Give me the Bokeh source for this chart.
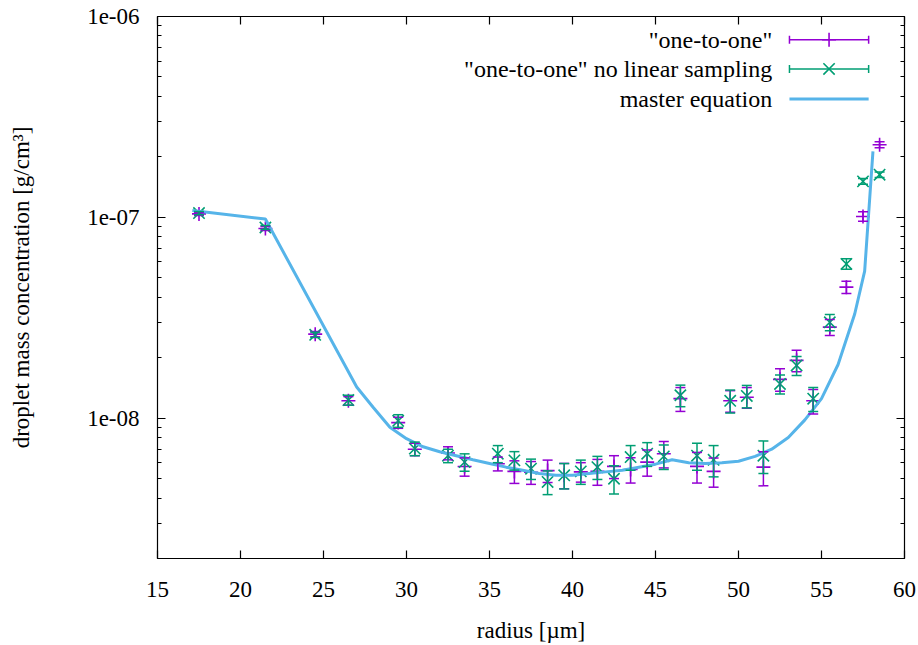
import math
from bokeh.plotting import figure
from bokeh.models import (Whisker, TeeHead, ColumnDataSource, LinearAxis, LogAxis,
                          FixedTicker, CustomJSTickFormatter, Range1d)
from bokeh.core.properties import value
from bokeh.embed import file_html
from bokeh.resources import INLINE

# ---------------- data ----------------
radius = [17.5, 21.5, 24.5, 26.5, 29.5, 30.5, 32.5, 33.5, 35.5, 36.5, 37.5, 38.5,
          39.5, 40.5, 41.5, 42.5, 43.5, 44.5, 45.5, 46.5, 47.5, 48.5, 49.5, 50.5,
          51.5, 52.5, 53.5, 54.5, 55.5, 56.5, 57.5, 58.5]

one_to_one = [1.04e-7, 8.8e-8, 2.62e-8, 1.22e-8, 9.5e-9, 7.0e-9, 6.7e-9, 5.74e-9,
              5.93e-9, 5.43e-9, 5.38e-9, 5.48e-9, 5.2e-9, 5.4e-9, 5.43e-9, 5.75e-9,
              5.55e-9, 6.04e-9, 6.65e-9, 1.25e-8, 5.75e-9, 5.43e-9, 1.22e-8, 1.27e-8,
              5.7e-9, 1.56e-8, 1.94e-8, 1.22e-8, 2.84e-8, 4.49e-8, 1.01e-7, 2.3e-7]
one_to_one_err = [2e-9, 2e-9, 8e-10, 6e-10, 6e-10, 5e-10, 5e-10, 6e-10,
                  4.7e-10, 7e-10, 7e-10, 7e-10, 7.5e-10, 6e-10, 8e-10, 7.5e-10,
                  8e-10, 9e-10, 1e-9, 1.7e-9, 1e-9, 9e-10, 1.5e-9, 1.5e-9,
                  1.1e-9, 2e-9, 2.4e-9, 1.7e-9, 2.6e-9, 3.2e-9, 5.5e-9, 8e-9]

no_linear = [1.05e-7, 8.9e-8, 2.6e-8, 1.23e-8, 9.7e-9, 7.05e-9, 6.5e-9, 6.04e-9,
             6.65e-9, 6.16e-9, 5.6e-9, 4.81e-9, 5.19e-9, 5.43e-9, 5.7e-9, 4.99e-9,
             6.4e-9, 6.65e-9, 6.45e-9, 1.3e-8, 6.5e-9, 6.2e-9, 1.22e-8, 1.29e-8,
             6.5e-9, 1.48e-8, 1.83e-8, 1.25e-8, 3.0e-8, 5.86e-8, 1.51e-7, 1.63e-7]
no_linear_err = [2e-9, 2e-9, 8e-10, 7e-10, 7e-10, 5.5e-10, 5e-10, 6e-10,
                 6.5e-10, 6.5e-10, 6.5e-10, 6.5e-10, 7.5e-10, 7.5e-10, 7.5e-10, 8e-10,
                 9e-10, 9e-10, 9e-10, 1.6e-9, 1e-9, 1.1e-9, 1.6e-9, 1.65e-9,
                 1.2e-9, 1.6e-9, 2e-9, 1.7e-9, 2.8e-9, 3.5e-9, 5e-9, 5e-9]

master_r = [17.1, 21.5, 27, 28, 29, 30, 31, 32, 33, 34, 35, 36, 37, 38, 39, 40, 41,
            42, 43, 44, 45, 46, 47, 48, 49, 50, 51, 52, 53, 54, 55, 56, 57, 57.6, 58.1]
master_c = [1.08e-7, 9.8e-8, 1.43e-8, 1.13e-8, 9.0e-9, 7.9e-9, 7.2e-9, 6.8e-9, 6.5e-9,
            6.2e-9, 5.95e-9, 5.7e-9, 5.5e-9, 5.3e-9, 5.2e-9, 5.2e-9, 5.3e-9, 5.4e-9,
            5.5e-9, 5.7e-9, 5.9e-9, 6.2e-9, 6.0e-9, 5.95e-9, 6.0e-9, 6.1e-9, 6.45e-9,
            7.0e-9, 8.0e-9, 9.8e-9, 1.25e-8, 1.85e-8, 3.3e-8, 5.4e-8, 2.13e-7]

legend_labels = ['"one-to-one"', '"one-to-one" no linear sampling', 'master equation']

x_ticks = [15, 20, 25, 30, 35, 40, 45, 50, 55, 60]
y_ticks = [1e-8, 1e-7, 1e-6]

# ---------------- style ----------------
PURPLE = "#9400d3"
GREEN = "#009e73"
BLUE = "#56b4e9"
FONT = "Liberation Serif"
FS = "23px"

XMIN, XMAX = 15, 60
YMIN, YMAX = 2e-9, 1e-6

p = figure(width=918, height=645, x_axis_type="linear", y_axis_type="log",
           x_range=Range1d(XMIN, XMAX), y_range=Range1d(YMIN, YMAX),
           output_backend="svg", toolbar_location=None,
           min_border_left=157, min_border_right=14, min_border_top=16,
           min_border_bottom=86)
p.background_fill_color = "white"
p.border_fill_color = "white"
p.outline_line_color = "black"
p.outline_line_width = 1.2
p.grid.visible = False

minor_y = [m * 10.0 ** k for k in (-9, -8, -7) for m in range(2, 10)]
yticker = FixedTicker(ticks=y_ticks, minor_ticks=minor_y)
xticker = FixedTicker(ticks=x_ticks)
yfmt = CustomJSTickFormatter(code="""
var s = tick.toExponential(0);
return s.replace(/e([+-])(\\d)$/, 'e$10$2');
""")
empty_fmt = CustomJSTickFormatter(code="return '';")


def style_axis(ax):
    ax.axis_line_color = None
    ax.major_tick_in = 8
    ax.major_tick_out = 0
    ax.minor_tick_in = 4
    ax.minor_tick_out = 0
    ax.major_tick_line_color = "black"
    ax.minor_tick_line_color = "black"
    ax.major_tick_line_width = 1.2
    ax.minor_tick_line_width = 1
    ax.major_label_text_font = FONT
    ax.major_label_text_font_size = FS
    ax.major_label_text_color = "black"
    ax.axis_label_text_font = FONT
    ax.axis_label_text_font_size = FS
    ax.axis_label_text_font_style = "normal"
    ax.axis_label_text_color = "black"


xa = p.xaxis[0]
xa.ticker = xticker
style_axis(xa)
xa.minor_tick_line_color = None
xa.major_label_standoff = 23
xa.axis_label = "radius [µm]"
xa.axis_label_standoff = 18

ya = p.yaxis[0]
ya.ticker = yticker
ya.formatter = yfmt
style_axis(ya)
ya.major_label_standoff = 18
ya.axis_label = "droplet mass concentration [g/cm³]"
ya.axis_label_standoff = 50

top = LinearAxis(ticker=xticker, formatter=empty_fmt)
style_axis(top)
top.minor_tick_line_color = None
top.major_label_text_font_size = "0px"
top.major_label_standoff = 0
p.add_layout(top, "above")

right = LogAxis(ticker=yticker, formatter=empty_fmt)
style_axis(right)
right.major_label_text_font_size = "0px"
right.major_label_standoff = 0
p.add_layout(right, "right")

# ---------------- data glyphs ----------------
src1 = ColumnDataSource(dict(
    x=radius, y=one_to_one,
    lo=[v - e for v, e in zip(one_to_one, one_to_one_err)],
    hi=[v + e for v, e in zip(one_to_one, one_to_one_err)]))
src2 = ColumnDataSource(dict(
    x=radius, y=no_linear,
    lo=[v - e for v, e in zip(no_linear, no_linear_err)],
    hi=[v + e for v, e in zip(no_linear, no_linear_err)]))

for src, col in ((src1, PURPLE), (src2, GREEN)):
    w = Whisker(source=src, base="x", lower="lo", upper="hi", dimension="height",
                line_color=col, line_width=1.5,
                upper_head=TeeHead(size=10, line_color=col, line_width=1.5),
                lower_head=TeeHead(size=10, line_color=col, line_width=1.5),
                level="glyph")
    p.add_layout(w)

p.scatter("x", "y", source=src1, marker="cross", size=14, line_color=PURPLE,
          line_width=1.6)
p.scatter("x", "y", source=src2, marker="x", size=16, line_color=GREEN,
          line_width=1.6)

p.line(master_r, master_c, line_color=BLUE, line_width=3)

# ---------------- legend (gnuplot-style, text right-aligned) ----------------
def fx(frac):
    return XMIN + (XMAX - XMIN) * frac


def fy(frac_from_top):
    lo, hi = math.log10(YMIN), math.log10(YMAX)
    return 10 ** (hi - (hi - lo) * frac_from_top)


rows = [0.0429, 0.0968, 0.152]
tx = fx(0.823)
lx0, lx1, lxc = fx(0.846), fx(0.952), fx(0.899)
cap = 10 ** 0.02
p.text(x=[tx] * 3, y=[fy(r) for r in rows], text=legend_labels,
       text_font=value(FONT), text_font_size="24px", text_color="black",
       text_align="right", text_baseline="middle")

for r, col, mk, sz in ((rows[0], PURPLE, "cross", 14), (rows[1], GREEN, "x", 16)):
    yy = fy(r)
    p.segment(x0=[lx0], y0=[yy], x1=[lx1], y1=[yy], line_color=col, line_width=1.5)
    p.segment(x0=[lx0, lx1], y0=[yy / cap] * 2, x1=[lx0, lx1], y1=[yy * cap] * 2,
              line_color=col, line_width=1.5)
    p.scatter(x=[lxc], y=[yy], marker=mk, size=sz, line_color=col, line_width=1.6)

p.line([lx0, lx1], [fy(rows[2])] * 2, line_color=BLUE, line_width=3)

open("out.html", "w").write(file_html(p, INLINE))
